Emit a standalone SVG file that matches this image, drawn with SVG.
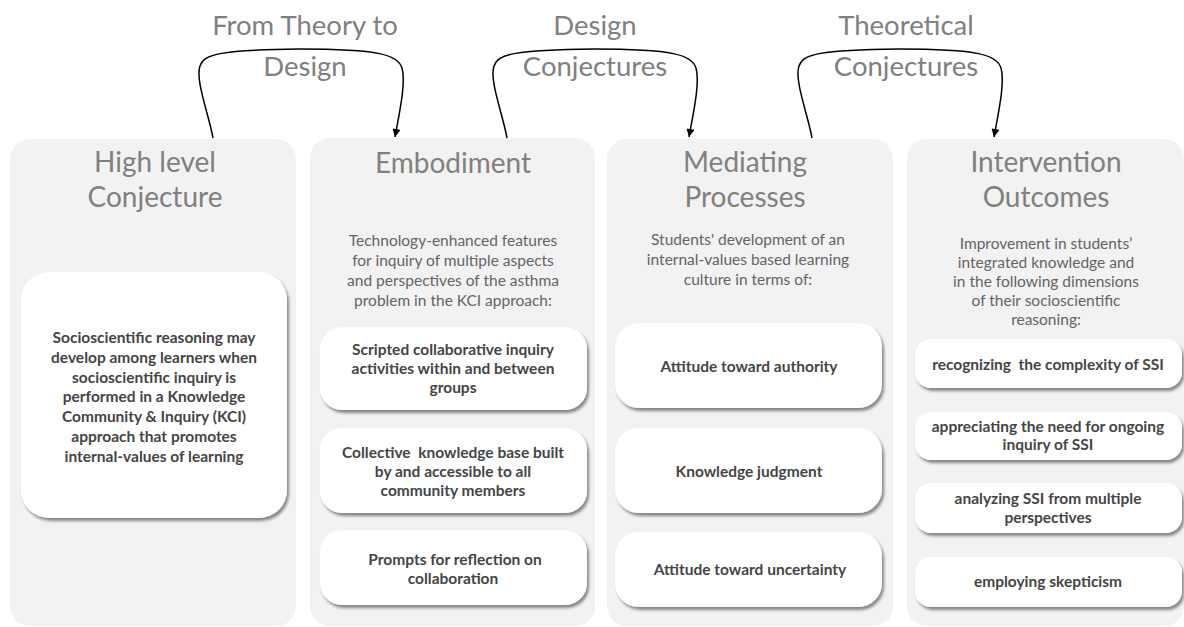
<svg xmlns="http://www.w3.org/2000/svg" width="1184" height="627" viewBox="0 0 1184 627">
<defs>
<style>
.panel{fill:#f2f2f2}
.box{fill:#ffffff;filter:url(#sh)}
.lbl{font-family:Lato,"Liberation Sans",sans-serif;font-size:27.5px;fill:#808080;text-anchor:middle}
.ttl{font-family:Lato,"Liberation Sans",sans-serif;font-size:28px;fill:#808080;text-anchor:middle}
.dsc{font-family:Lato,"Liberation Sans",sans-serif;font-size:15.5px;fill:#646464;text-anchor:middle}
.bt{font-family:Lato,"Liberation Sans",sans-serif;font-size:15.5px;font-weight:bold;fill:#454545;text-anchor:middle}
.arr{fill:none;stroke:#000;stroke-width:1.5;marker-end:url(#ah)}
</style>
<filter id="sh" x="-10%" y="-10%" width="125%" height="130%">
<feDropShadow dx="2" dy="3" stdDeviation="1.5" flood-color="#000" flood-opacity="0.45"/>
</filter>
<marker id="ah" viewBox="0 0 10 10" refX="10" refY="5" markerWidth="10" markerHeight="8" markerUnits="userSpaceOnUse" orient="auto">
<path d="M0,0 L10,5 L0,10 z" fill="#000"/>
</marker>
</defs>
<rect width="1184" height="627" fill="#ffffff"/>

<g id="col1">
<rect class="panel" x="10" y="139" width="286" height="487" rx="20"/>
<text class="ttl" x="155" y="172">High level</text>
<text class="ttl" x="155" y="207">Conjecture</text>
<rect class="box" x="21" y="272" width="266" height="246" rx="28"/>
<text class="bt"><tspan x="154" y="343">Socioscientific reasoning may</tspan><tspan x="154" y="363">develop among learners when</tspan><tspan x="154" y="383">socioscientific inquiry is</tspan><tspan x="154" y="402">performed in a Knowledge</tspan><tspan x="154" y="422">Community &amp; Inquiry (KCI)</tspan><tspan x="154" y="442">approach that promotes</tspan><tspan x="154" y="462">internal-values of learning</tspan></text>
</g>

<g id="col2">
<rect class="panel" x="310" y="138" width="285" height="488" rx="20"/>
<text class="ttl" x="453" y="173">Embodiment</text>
<text class="dsc"><tspan x="453" y="246">Technology-enhanced features</tspan><tspan x="453" y="266">for inquiry of multiple aspects</tspan><tspan x="453" y="286">and perspectives of the asthma</tspan><tspan x="453" y="306">problem in the KCI approach:</tspan></text>
<g id="emb1"><rect class="box" x="320" y="327" width="267" height="83" rx="22"/>
<text class="bt"><tspan x="453" y="355">Scripted collaborative inquiry</tspan><tspan x="453" y="374">activities within and between</tspan><tspan x="453" y="393">groups</tspan></text></g>
<g id="emb2"><rect class="box" x="320" y="428" width="267" height="85" rx="22"/>
<text class="bt" xml:space="preserve"><tspan x="453" y="458">Collective  knowledge base built</tspan><tspan x="453" y="477">by and accessible to all</tspan><tspan x="453" y="496">community members</tspan></text></g>
<g id="emb3"><rect class="box" x="320" y="530" width="267" height="75" rx="22"/>
<text class="bt"><tspan x="455" y="565">Prompts for reflection on</tspan><tspan x="453" y="584">collaboration</tspan></text></g>
</g>

<g id="col3">
<rect class="panel" x="607" y="139" width="286" height="487" rx="20"/>
<text class="ttl" x="745" y="172">Mediating</text>
<text class="ttl" x="745" y="207">Processes</text>
<text class="dsc"><tspan x="748" y="245">Students' development of an</tspan><tspan x="748" y="265">internal-values based learning</tspan><tspan x="748" y="285">culture in terms of:</tspan></text>
<g id="med1"><rect class="box" x="615" y="323" width="267" height="85" rx="24"/>
<text class="bt" x="749" y="372">Attitude toward authority</text></g>
<g id="med2"><rect class="box" x="615" y="428" width="267" height="85" rx="24"/>
<text class="bt" x="749" y="477">Knowledge judgment</text></g>
<g id="med3"><rect class="box" x="615" y="532" width="267" height="75" rx="24"/>
<text class="bt" x="750" y="575">Attitude toward uncertainty</text></g>
</g>

<g id="col4">
<rect class="panel" x="907" y="139" width="277" height="487" rx="20"/>
<text class="ttl" x="1046" y="172">Intervention</text>
<text class="ttl" x="1046" y="207">Outcomes</text>
<text class="dsc"><tspan x="1046" y="249">Improvement in students’</tspan><tspan x="1046" y="268">integrated knowledge and</tspan><tspan x="1046" y="287">in the following dimensions</tspan><tspan x="1046" y="306">of their socioscientific</tspan><tspan x="1046" y="325">reasoning:</tspan></text>
<g id="out1"><rect class="box" x="915" y="339" width="267" height="49" rx="16"/>
<text class="bt" x="1048" y="370" xml:space="preserve">recognizing  the complexity of SSI</text></g>
<g id="out2"><rect class="box" x="915" y="412" width="267" height="48" rx="16"/>
<text class="bt"><tspan x="1048" y="432">appreciating the need for ongoing</tspan><tspan x="1048" y="450">inquiry of SSI</tspan></text></g>
<g id="out3"><rect class="box" x="915" y="483" width="267" height="50" rx="16"/>
<text class="bt"><tspan x="1048" y="504">analyzing SSI from multiple</tspan><tspan x="1048" y="523">perspectives</tspan></text></g>
<g id="out4"><rect class="box" x="915" y="557" width="267" height="50" rx="16"/>
<text class="bt" x="1048" y="587">employing skepticism</text></g>
</g>

<g id="connectors">
<path class="arr" d="M213,138 C209,115 195,80 200,66 C204,54 220,50 300,49 C380,49 398,55 402,68 C406,82 400,110 395,137"/>
<path class="arr" d="M507,138 C503,115 489,80 494,66 C498,54 514,50 594,49 C674,49 692,55 696,68 C700,82 694,110 689,137"/>
<path class="arr" d="M812,138 C808,115 794,80 799,66 C803,54 819,50 899,49 C979,49 997,55 1001,68 C1005,82 999,110 994,137"/>
</g>

<g id="labels">
<text class="lbl" x="305" y="35">From Theory to</text>
<text class="lbl" x="305" y="76">Design</text>
<text class="lbl" x="595" y="35">Design</text>
<text class="lbl" x="595" y="76">Conjectures</text>
<text class="lbl" x="906" y="35">Theoretical</text>
<text class="lbl" x="906" y="76">Conjectures</text>
</g>
</svg>
